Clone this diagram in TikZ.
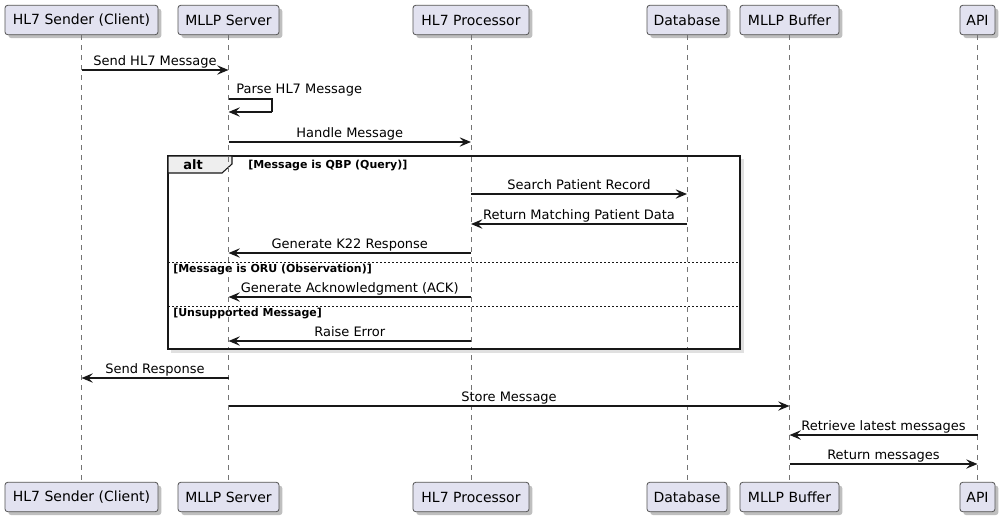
\documentclass[tikz,border=0pt]{standalone}
\usepackage{fontspec}
\setmainfont{DejaVu Sans}
\usetikzlibrary{arrows.meta,shadows}
\definecolor{pfill}{HTML}{E2E2F0}
\definecolor{pline}{HTML}{181818}
\definecolor{tabfill}{HTML}{EEEEEE}
\newcommand\partbox[5]{\node[part, minimum width={(#3-#2)*0.75pt}] (#1) at ({(#2+#3)/2},#4) {#5};}
\newcommand\msg[4]{\draw[msgline] (#1 |- 0,#3) -- node[msglabel]{#4} (#2 |- 0,#3);}
\begin{document}
\begin{tikzpicture}[x=0.75pt,y=-0.75pt,
  part/.style={draw=pline!75, fill=pfill, rounded corners=2pt, line width=0.6pt,
    inner sep=0pt, minimum height=22pt, font=\fontsize{10.5}{12}\selectfont,
    drop shadow={shadow xshift=2.5pt, shadow yshift=-2.5pt, opacity=0.25, fill=black}},
  life/.style={draw=pline!60, line width=0.5pt, dash pattern=on 3.75pt off 3.75pt},
  msgline/.style={draw=pline, line width=1.2pt, -{Stealth[length=8.5pt,width=7pt,inset=3.2pt]}},
  msglabel/.style={midway, anchor=base, yshift=3.75pt, inner sep=0pt, font=\fontsize{9.75}{11}\selectfont},
  guard/.style={anchor=base west, inner sep=0pt, font=\fontsize{8.25}{10}\selectfont\bfseries},
  sep/.style={draw=pline, line width=0.5pt, dash pattern=on 1.5pt off 1.5pt}]
\useasboundingbox (0,0) rectangle (1006,522);
% participants
\partbox{s1}{5}{158}{20}{HL7 Sender (Client)}
\partbox{m1}{178}{279}{20}{MLLP Server}
\partbox{p1}{413}{529}{20}{HL7 Processor}
\partbox{d1}{647}{727}{20}{Database}
\partbox{b1}{740}{839}{20}{MLLP Buffer}
\partbox{a1}{960}{995}{20}{API}
\partbox{s2}{5}{158}{497}{HL7 Sender (Client)}
\partbox{m2}{178}{279}{497}{MLLP Server}
\partbox{p2}{413}{529}{497}{HL7 Processor}
\partbox{d2}{647}{727}{497}{Database}
\partbox{b2}{740}{839}{497}{MLLP Buffer}
\partbox{a2}{960}{995}{497}{API}
\foreach \t in {s,m,p,d,b,a}{\draw[life] (\t1.south) -- (\t2.north);}
% alt frame
\fill[black, opacity=0.12] (171,159) rectangle (744,353);
\draw[fill=white, draw=pline, line width=1.1pt] (168,156) rectangle (740,349);
\draw[fill=tabfill, draw=pline, line width=0.8pt] (168,156) -- (232,156) -- (232,164) -- (222,173) -- (168,173) -- cycle;
\node[anchor=base, inner sep=0pt, font=\fontsize{9.75}{11}\selectfont\bfseries] (altlab) at (193,169) {alt};
\node[guard] (g1) at (248,168) {[Message is QBP (Query)]};
\draw[sep] (168,262) -- (740,262);
\node[guard] (g2) at (173,272) {[Message is ORU (Observation)]};
\draw[sep] (168,306) -- (740,306);
\node[guard] (g3) at (173,316) {[Unsupported Message]};
\foreach \t in {m,p,d}{\draw[life] (\t1 |- 0,157) -- (\t1 |- 0,348);}
% messages
\msg{s1}{m1}{70}{Send HL7 Message}
\draw[draw=pline, line width=1.2pt] (m1 |- 0,99) -- (272,99) -- (272,112);
\draw[msgline] (272,112) -- (m1 |- 0,112);
\node[anchor=base west, inner sep=0pt, font=\fontsize{9.75}{11}\selectfont] (parse) at (236,93) {Parse HL7 Message};
\msg{m1}{p1}{142}{Handle Message}
\msg{p1}{d1}{194}{Search Patient Record}
\msg{d1}{p1}{224}{Return Matching Patient Data}
\msg{p1}{m1}{253}{Generate K22 Response}
\msg{p1}{m1}{297}{Generate Acknowledgment (ACK)}
\msg{p1}{m1}{341}{Raise Error}
\msg{m1}{s1}{378}{Send Response}
\msg{m1}{b1}{406}{Store Message}
\msg{a1}{b1}{435}{Retrieve latest messages}
\msg{b1}{a1}{464}{Return messages}
\end{tikzpicture}
\end{document}
